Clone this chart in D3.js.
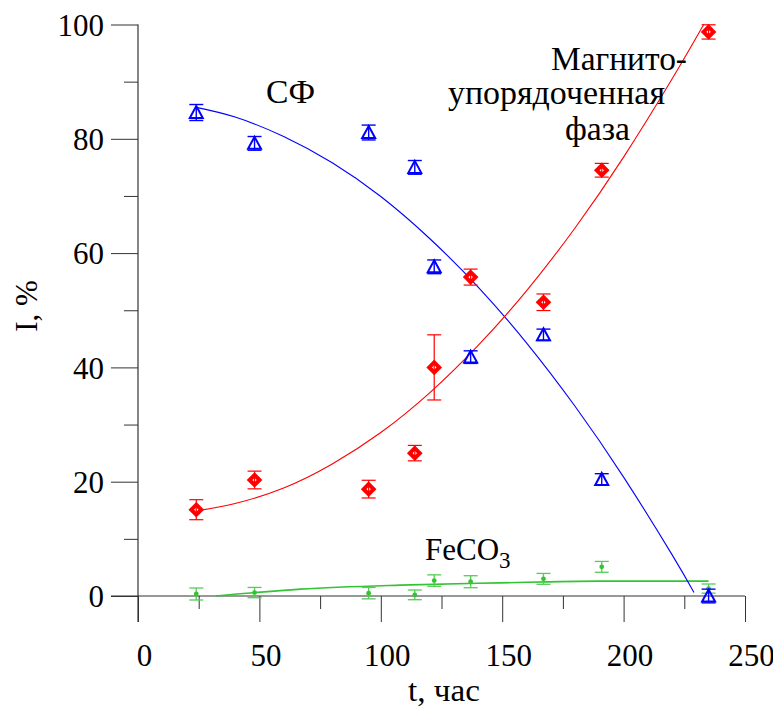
<!DOCTYPE html>
<html>
<head>
<meta charset="utf-8">
<script src="https://cdn.jsdelivr.net/npm/d3@7"></script>
<style>
  html, body { margin: 0; padding: 0; background: #fff; }
</style>
</head>
<body>
<div id="chart"></div>
<script>
// measured points
const tHours = [24, 48, 95, 114, 122, 137, 167, 191, 235];
const sfValues = [84.6, 79.2, 81.1, 75.0, 57.6, 41.8, 45.7, 20.4, 0.0];
const sfErr = [1.4, 1.2, 1.3, 1.2, 1.2, 1.1, 1.0, 1.0, 1.2];
const mpValues = [15.1, 20.3, 18.7, 25.0, 40.0, 55.8, 51.4, 74.5, 98.7];
const mpErr = [1.75, 1.55, 1.55, 1.35, 5.7, 1.4, 1.45, 1.2, 1.25];
const feValues = [0.35, 0.6, 0.5, 0.2, 2.7, 2.5, 3.0, 5.1, 1.3];
const feErr = [1.05, 0.9, 1.0, 0.85, 1.0, 1.05, 0.95, 0.95, 0.8];

// fitted curves
const sfFitT = [24, 40, 60, 80, 100, 120, 140, 160, 180, 200, 220, 229];
const sfFitI = [85.5, 83.8, 80.4, 75.8, 69.9, 62.6, 54.1, 44.3, 33.2, 20.8, 7.2, 0.6];
const mpFitT = [24, 40, 60, 80, 100, 120, 140, 160, 180, 200, 220, 233];
const mpFitI = [14.9, 16.2, 18.9, 23.1, 28.6, 35.5, 43.8, 53.4, 64.4, 76.8, 90.5, 100];
const feFitT = [32, 67, 108, 149, 190, 235];
const feFitI = [0, 1.2, 1.9, 2.3, 2.6, 2.6];

const xMajor = [0, 50, 100, 150, 200, 250];
const xMinor = [25, 75, 125, 175, 225];
const yMajor = [0, 20, 40, 60, 80, 100];
const yMinor = [10, 30, 50, 70, 90];

const width = 773;
const height = 708;
const blue = "#0000ff";
const red = "#ff0000";
const green = "#33c433";
const serif = '"Liberation Serif"';

const svg = d3
  .select("#chart")
  .append("svg")
  .attr("width", width)
  .attr("height", height);

const x = d3.scaleLinear().domain([0, 250]).range([138, 745]);
const y = d3.scaleLinear().domain([0, 100]).range([596, 24.5]);

const axisColor = "#333";

// x axis
const xAxis = svg.append("g").attr("transform", `translate(0,${y(0)})`);
xAxis.call(d3.axisBottom(x).tickValues(xMajor).tickSize(26).tickSizeOuter(0).tickPadding(22));
xAxis.select(".domain").remove();
xAxis.selectAll("line").attr("stroke", axisColor);
xAxis.selectAll("text")
  .style("font-size", "31px")
  .style("font-family", serif)
  .attr("fill", "#000")
  .attr("dx", 6);
const xAxisMinor = svg.append("g").attr("transform", `translate(0,${y(0)})`);
xAxisMinor.call(d3.axisBottom(x).tickValues(xMinor).tickSize(13).tickFormat(""));
xAxisMinor.select(".domain").remove();
xAxisMinor.selectAll("line").attr("stroke", axisColor);

// y axis
const yAxis = svg.append("g").attr("transform", `translate(${x(0)},0)`);
yAxis.call(d3.axisLeft(y).tickValues(yMajor).tickSize(27).tickSizeOuter(0).tickPadding(7));
yAxis.select(".domain").remove();
yAxis.selectAll("line").attr("stroke", axisColor);
yAxis.selectAll("text")
  .style("font-size", "31px")
  .style("font-family", serif)
  .attr("fill", "#000")
  .attr("dy", "0.35em");
const yAxisMinor = svg.append("g").attr("transform", `translate(${x(0)},0)`);
yAxisMinor.call(d3.axisLeft(y).tickValues(yMinor).tickSize(14).tickFormat(""));
yAxisMinor.select(".domain").remove();
yAxisMinor.selectAll("line").attr("stroke", axisColor);

svg.append("line")
  .attr("x1", x(0) - 27).attr("x2", x(250))
  .attr("y1", y(0)).attr("y2", y(0))
  .attr("stroke", axisColor).attr("stroke-width", 1.2);
svg.append("line")
  .attr("x1", x(0)).attr("x2", x(0))
  .attr("y1", y(100)).attr("y2", y(0) + 26)
  .attr("stroke", axisColor).attr("stroke-width", 1.2);

// text sized to the widths measured on the reference
const label = (txt, lx, ly, size, len) => {
  const t = svg.append("text")
    .attr("x", lx).attr("y", ly)
    .style("font-family", serif)
    .style("font-size", size + "px")
    .text(txt);
  if (len) t.attr("textLength", len).attr("lengthAdjust", "spacingAndGlyphs");
  return t;
};

// axis titles
label("t, час", 408, 701, 32, 72);
svg.append("text")
  .attr("transform", "translate(37,306) rotate(-90)")
  .attr("text-anchor", "middle")
  .style("font-family", serif)
  .style("font-size", "31px")
  .text("I, %");

// fitted curves
const drawCurve = (ts, vals, color, w, curve) => {
  const pts = ts.map((t, i) => [t, vals[i]]);
  svg.append("path")
    .datum(pts)
    .attr("fill", "none")
    .attr("stroke", color)
    .attr("stroke-width", w)
    .attr("d", d3.line().x((d) => x(d[0])).y((d) => y(d[1])).curve(curve));
};
drawCurve(feFitT, feFitI, green, 1.6, d3.curveMonotoneX);
drawCurve(sfFitT, sfFitI, blue, 1.1, d3.curveNatural);
drawCurve(mpFitT, mpFitI, red, 1.1, d3.curveNatural);

// error bars
const drawErrors = (vals, errs, color, w) => {
  const g = svg.append("g").attr("stroke", color).attr("stroke-width", w);
  tHours.forEach((t, i) => {
    const cx = x(t);
    const top = y(vals[i] + errs[i]);
    const bot = y(vals[i] - errs[i]);
    g.append("line").attr("x1", cx).attr("x2", cx).attr("y1", top).attr("y2", bot);
    g.append("line").attr("x1", cx - 7).attr("x2", cx + 7).attr("y1", top).attr("y2", top);
    g.append("line").attr("x1", cx - 7).attr("x2", cx + 7).attr("y1", bot).attr("y2", bot);
  });
};

// FeCO3 points
drawErrors(feValues, feErr, "#55cc55", 1.3);
svg.append("g")
  .selectAll("circle")
  .data(feValues)
  .join("circle")
  .attr("cx", (d, i) => x(tHours[i]))
  .attr("cy", (d) => y(d))
  .attr("r", 2.4)
  .attr("fill", green);

// CF points (open triangles)
svg.append("g")
  .selectAll("path")
  .data(sfValues)
  .join("path")
  .attr("transform", (d, i) => `translate(${x(tHours[i])},${y(d)})`)
  .attr("d", "M0,-6.5 L6.5,5.5 L-6.5,5.5 Z")
  .attr("fill", "none")
  .attr("stroke", blue)
  .attr("stroke-width", 2);
drawErrors(sfValues, sfErr, blue, 1.4);

// magnetically ordered phase points (diamonds)
svg.append("g")
  .selectAll("path")
  .data(mpValues)
  .join("path")
  .attr("transform", (d, i) => `translate(${x(tHours[i])},${y(d)})`)
  .attr("d", "M0,-5 L5,0 L0,5 L-5,0 Z")
  .attr("fill", "#fff")
  .attr("stroke", red)
  .attr("stroke-width", 4);
drawErrors(mpValues, mpErr, red, 1.2);

// series labels
label("СФ", 266, 103, 33, 49);
label("Магнито-", 551, 70, 33, 136);
label("упорядоченная", 448, 104, 33, 217);
label("фаза", 565, 140, 33, 65);

const fe = label("FeCO", 425, 560, 31);
fe.append("tspan").style("font-size", "23px").attr("dy", 8).text("3");
</script>
</body>
</html>
